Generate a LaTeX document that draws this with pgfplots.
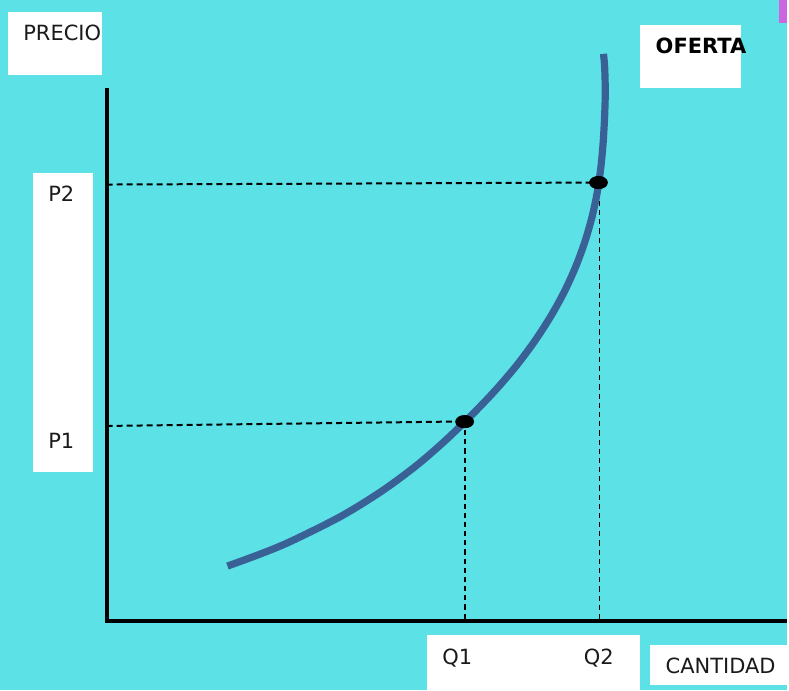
\documentclass[border=0pt]{standalone}
\usepackage{pgfplots}
\pgfplotsset{compat=1.18}
\usepackage{fontspec}
\setmainfont{DejaVu Sans}

\definecolor{bgcyan}{HTML}{5CE1E6}
\definecolor{curveblue}{HTML}{3A6196}
\definecolor{pinkish}{HTML}{CC66E0}
\definecolor{txt}{HTML}{1A1A1A}

\begin{document}
\begin{tikzpicture}
  \begin{axis}[
      scale only axis,
      width=394.5pt, height=346pt,
      xmin=0, xmax=789,
      ymin=0, ymax=692,
      y dir=reverse,
      hide axis,
      clip=false,
    ]
    % background and label boxes (pixel coordinates, y down)
    \fill[bgcyan] (axis cs:0,0) rectangle (axis cs:789,692);
    \fill[pinkish] (axis cs:781,0) rectangle (axis cs:789,23);
    \fill[white] (axis cs:8,12) rectangle (axis cs:102,75);
    \fill[white] (axis cs:33,173) rectangle (axis cs:93,473);
    \fill[white] (axis cs:642,25) rectangle (axis cs:743,88);
    \fill[white] (axis cs:428,637) rectangle (axis cs:642,692);
    \fill[white] (axis cs:652,647) rectangle (axis cs:789,687);

    % axes
    \addplot[black, line width=2pt] coordinates {(107,88) (107,623) (789,623)};

    % guide lines
    \addplot[black, line width=1pt, dash pattern=on 3pt off 2pt] coordinates {(107,185) (600,183)};
    \addplot[black, line width=1pt, dash pattern=on 3pt off 2pt] coordinates {(107,427) (465,422.5)};
    \addplot[black, line width=0.95pt, dash pattern=on 2.6pt off 2pt] coordinates {(466,422) (466,623)};
    \addplot[black, line width=0.95pt, dash pattern=on 2.6pt off 2pt] coordinates {(601,183) (601,623)};

    % supply curve
    \addplot[curveblue, line width=3.6pt, smooth, tension=0.5] coordinates {
        (228,567.5) (262,555) (292,542.5) (342,517.5) (382.5,492.5) (416.5,467.5)
        (445.5,442.5) (471.5,417.5) (495.5,392.5) (517,367.5)
        (535.7,342.5) (551.9,317.5) (565.7,292.5) (577.1,267.5)
        (586.3,242.5) (593.5,217.5) (598.8,192.5) (602.4,167.5)
        (604.7,142.5) (606.1,117.5) (606.8,92.5) (606.2,67.5) (605,54)
      };

    % points
    \addplot[only marks, mark=*, mark size=3.1pt, black,
      mark options={xscale=1.45}] coordinates {(465.8,422.7) (600,183)};

    % labels
    \fontsize{10.5}{12}\selectfont
    \node[txt, anchor=base west, inner sep=0pt] at (axis cs:23,41) {PRECIO};
    \node[txt, anchor=base west, inner sep=0pt] at (axis cs:48,202) {P2};
    \node[txt, anchor=base west, inner sep=0pt] at (axis cs:48,450) {P1};
    \node[black, anchor=base west, inner sep=0pt, font=\bfseries] at (axis cs:657,54) {OFERTA};
    \node[txt, anchor=base west, inner sep=0pt] at (axis cs:443,666) {Q1};
    \node[txt, anchor=base west, inner sep=0pt] at (axis cs:585,666) {Q2};
    \node[txt, anchor=base west, inner sep=0pt] at (axis cs:667,675) {CANTIDAD};
  \end{axis}
\end{tikzpicture}
\end{document}
